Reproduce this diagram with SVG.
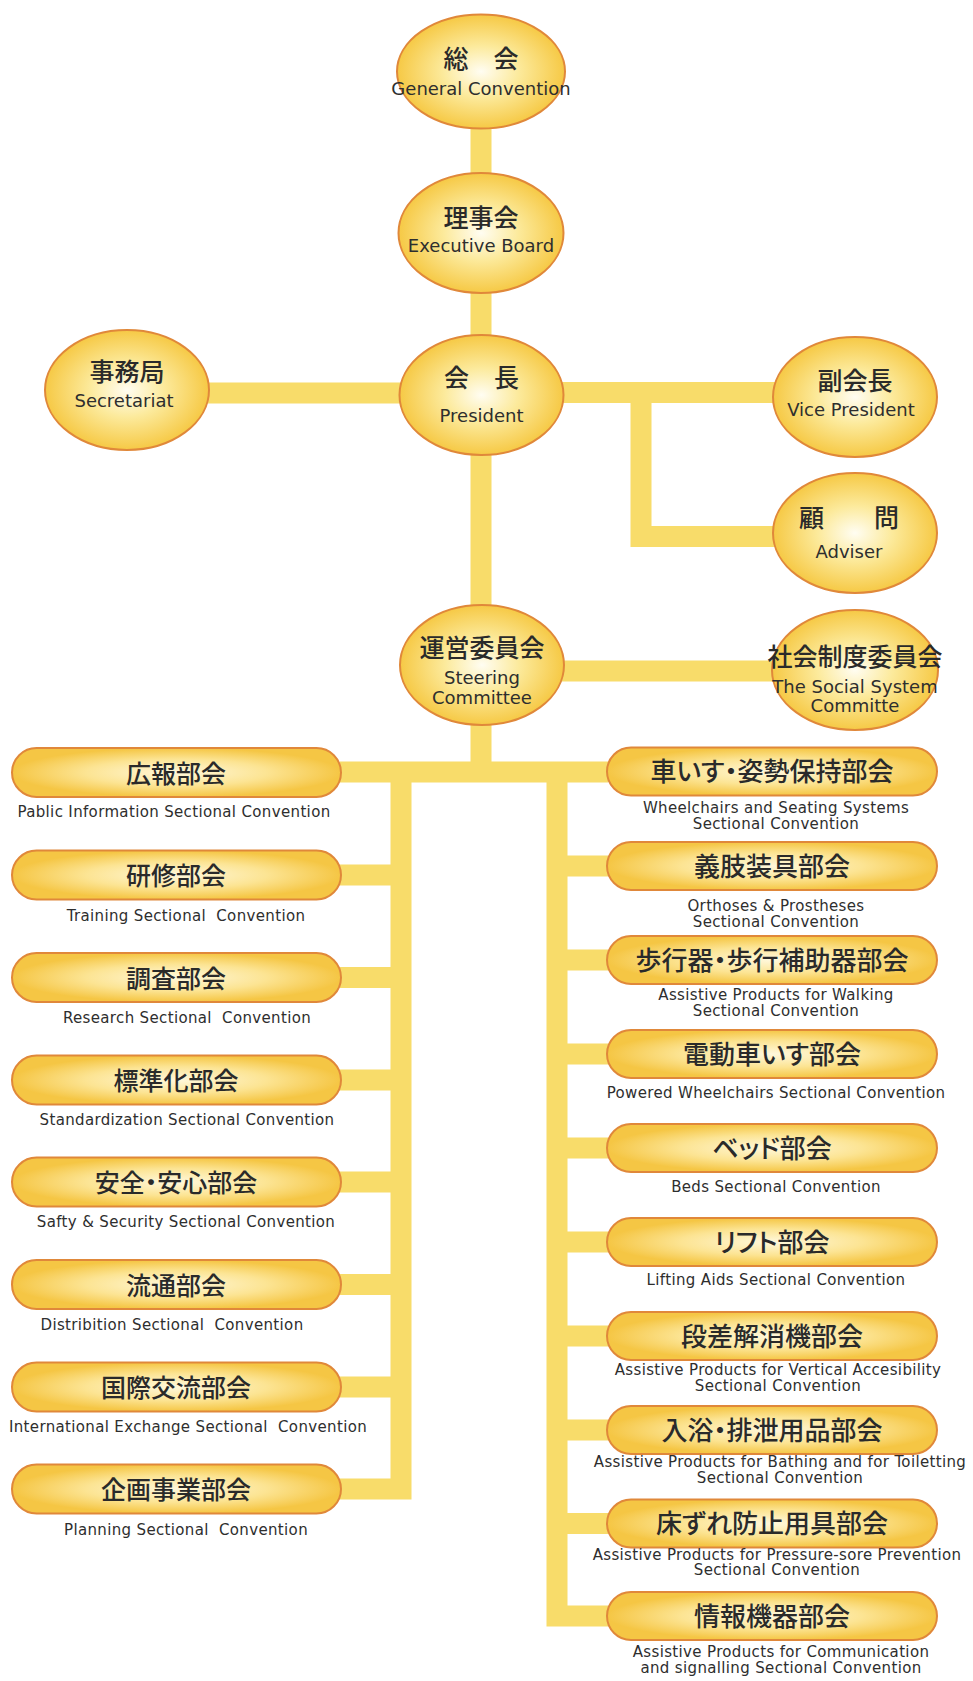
<svg xmlns="http://www.w3.org/2000/svg" width="973" height="1681" viewBox="0 0 973 1681">
<defs>
<radialGradient id="gEll" cx="0.5" cy="0.5" r="0.5">
<stop offset="0" stop-color="#fffdf2"/>
<stop offset="0.45" stop-color="#fcea9c"/>
<stop offset="1" stop-color="#f6c945"/>
</radialGradient>
<radialGradient id="gPill" cx="0.5" cy="0.5" r="0.5">
<stop offset="0" stop-color="#fff8dc"/>
<stop offset="0.55" stop-color="#fce493"/>
<stop offset="1" stop-color="#f5c644"/>
</radialGradient>
<style>
.ell{fill:url(#gEll);stroke:#e0883a;stroke-width:2}
.pill{fill:url(#gPill);stroke:#e0883a;stroke-width:2}
.con{fill:none;stroke:#f8dc6a;stroke-width:21;stroke-linejoin:miter;stroke-linecap:butt}
.jp{font-family:"Noto Sans CJK JP","Noto Sans CJK SC",sans-serif;font-weight:500;font-size:25px;fill:#2a2a2a;text-anchor:middle;font-feature-settings:"palt"}
.jpr{font-size:26px}
.en{font-family:"DejaVu Sans","Liberation Sans",sans-serif;font-size:18px;fill:#2e2e2e;text-anchor:middle}
.sub{font-family:"DejaVu Sans","Liberation Sans",sans-serif;font-size:15px;letter-spacing:0.35px;fill:#2e2e2e;text-anchor:middle;white-space:pre}
</style>
</defs>
<rect width="973" height="1681" fill="#ffffff"/>
<g id="connectors">
<path class="con" d="M481,126 V176"/>
<path class="con" d="M481,291 V337"/>
<path class="con" d="M207,393 H402"/>
<path class="con" d="M561,392.5 H775"/>
<path class="con" d="M641,392.5 V536.5 H775"/>
<path class="con" d="M481,453 V607"/>
<path class="con" d="M562,671 H773"/>
<path class="con" d="M481,723 V772"/>
<path class="con" d="M340,772 H608"/>
<path class="con" d="M401,772 V1489 H340"/>
<path class="con" d="M340,875 H401 M340,977.5 H401 M340,1080 H401 M340,1182 H401 M340,1284.5 H401 M340,1387 H401"/>
<path class="con" d="M557,772 V1616 H608"/>
<path class="con" d="M557,866 H608 M557,960 H608 M557,1054 H608 M557,1148 H608 M557,1242 H608 M557,1336 H608 M557,1430 H608 M557,1523.5 H608"/>
</g>
<g id="n-general">
<ellipse class="ell" cx="481" cy="71.5" rx="84" ry="57"/>
<text class="jp" x="481" y="68">総　会</text>
<text class="en" x="481" y="95">General Convention</text>
</g>
<g id="n-board">
<ellipse class="ell" cx="481" cy="233" rx="82.5" ry="60"/>
<text class="jp" x="481" y="227">理事会</text>
<text class="en" x="481" y="252">Executive Board</text>
</g>
<g id="n-president">
<ellipse class="ell" cx="481.5" cy="395" rx="82" ry="60"/>
<text class="jp" x="481.5" y="386.5">会　長</text>
<text class="en" x="481.5" y="422">President</text>
</g>
<g id="n-secretariat">
<ellipse class="ell" cx="127" cy="390" rx="82" ry="60"/>
<text class="jp" x="127" y="381">事務局</text>
<text class="en" x="124" y="407">Secretariat</text>
</g>
<g id="n-vice">
<ellipse class="ell" cx="855" cy="397" rx="82" ry="60"/>
<text class="jp" x="855" y="389.5">副会長</text>
<text class="en" x="851" y="416">Vice President</text>
</g>
<g id="n-adviser">
<ellipse class="ell" cx="855" cy="533" rx="82" ry="60"/>
<text class="jp" x="849" y="526.5">顧　　問</text>
<text class="en" x="849" y="558">Adviser</text>
</g>
<g id="n-steering">
<ellipse class="ell" cx="482" cy="665" rx="82" ry="60"/>
<text class="jp" x="482" y="657">運営委員会</text>
<text class="en" x="482" y="684">Steering</text>
<text class="en" x="482" y="704">Committee</text>
</g>
<g id="n-social">
<ellipse class="ell" cx="855" cy="670" rx="83" ry="60"/>
<text class="jp" x="855" y="666">社会制度委員会</text>
<text class="en" x="855" y="693">The Social System</text>
<text class="en" x="855" y="712">Committe</text>
</g>
<g id="n-l1">
<rect class="pill" x="12" y="748" width="329" height="49" rx="24.5"/>
<text class="jp" x="176" y="782.5">広報部会</text>
<text class="sub" x="174" y="817">Pablic Information Sectional Convention</text>
</g>
<g id="n-l2">
<rect class="pill" x="12" y="850.5" width="329" height="49" rx="24.5"/>
<text class="jp" x="176" y="885">研修部会</text>
<text class="sub" x="186" y="921">Training Sectional  Convention</text>
</g>
<g id="n-l3">
<rect class="pill" x="12" y="953" width="329" height="49" rx="24.5"/>
<text class="jp" x="176" y="987.5">調査部会</text>
<text class="sub" x="187" y="1023">Research Sectional  Convention</text>
</g>
<g id="n-l4">
<rect class="pill" x="12" y="1055.5" width="329" height="49" rx="24.5"/>
<text class="jp" x="176" y="1090">標準化部会</text>
<text class="sub" x="187" y="1125">Standardization Sectional Convention</text>
</g>
<g id="n-l5">
<rect class="pill" x="12" y="1157.5" width="329" height="49" rx="24.5"/>
<text class="jp" x="176" y="1192">安全・安心部会</text>
<text class="sub" x="186" y="1227">Safty &amp; Security Sectional Convention</text>
</g>
<g id="n-l6">
<rect class="pill" x="12" y="1260" width="329" height="49" rx="24.5"/>
<text class="jp" x="176" y="1294.5">流通部会</text>
<text class="sub" x="172" y="1330">Distribition Sectional  Convention</text>
</g>
<g id="n-l7">
<rect class="pill" x="12" y="1362.5" width="329" height="49" rx="24.5"/>
<text class="jp" x="176" y="1397">国際交流部会</text>
<text class="sub" x="188" y="1432">International Exchange Sectional  Convention</text>
</g>
<g id="n-l8">
<rect class="pill" x="12" y="1464.5" width="329" height="49" rx="24.5"/>
<text class="jp" x="176" y="1499">企画事業部会</text>
<text class="sub" x="186" y="1535">Planning Sectional  Convention</text>
</g>
<g id="n-r1">
<rect class="pill" x="607" y="747.5" width="330" height="48" rx="24"/>
<text class="jp jpr" x="772" y="781">車いす・姿勢保持部会</text>
<text class="sub" x="776" y="813">Wheelchairs and Seating Systems</text>
<text class="sub" x="776" y="829">Sectional Convention</text>
</g>
<g id="n-r2">
<rect class="pill" x="607" y="842" width="330" height="48" rx="24"/>
<text class="jp jpr" x="772" y="875.5">義肢装具部会</text>
<text class="sub" x="776" y="911">Orthoses &amp; Prostheses</text>
<text class="sub" x="776" y="927">Sectional Convention</text>
</g>
<g id="n-r3">
<rect class="pill" x="607" y="936" width="330" height="48" rx="24"/>
<text class="jp jpr" x="772" y="969.5">歩行器・歩行補助器部会</text>
<text class="sub" x="776" y="1000">Assistive Products for Walking</text>
<text class="sub" x="776" y="1016">Sectional Convention</text>
</g>
<g id="n-r4">
<rect class="pill" x="607" y="1030" width="330" height="48" rx="24"/>
<text class="jp jpr" x="772" y="1063.5">電動車いす部会</text>
<text class="sub" x="776" y="1098">Powered Wheelchairs Sectional Convention</text>
</g>
<g id="n-r5">
<rect class="pill" x="607" y="1124" width="330" height="48" rx="24"/>
<text class="jp jpr" x="772" y="1157.5">ベッド部会</text>
<text class="sub" x="776" y="1192">Beds Sectional Convention</text>
</g>
<g id="n-r6">
<rect class="pill" x="607" y="1218" width="330" height="48" rx="24"/>
<text class="jp jpr" x="772" y="1251.5">リフト部会</text>
<text class="sub" x="776" y="1285">Lifting Aids Sectional Convention</text>
</g>
<g id="n-r7">
<rect class="pill" x="607" y="1312" width="330" height="48" rx="24"/>
<text class="jp jpr" x="772" y="1345.5">段差解消機部会</text>
<text class="sub" x="778" y="1375">Assistive Products for Vertical Accesibility</text>
<text class="sub" x="778" y="1391">Sectional Convention</text>
</g>
<g id="n-r8">
<rect class="pill" x="607" y="1406" width="330" height="48" rx="24"/>
<text class="jp jpr" x="772" y="1439.5">入浴・排泄用品部会</text>
<text class="sub" x="780" y="1467">Assistive Products for Bathing and for Toiletting</text>
<text class="sub" x="780" y="1483">Sectional Convention</text>
</g>
<g id="n-r9">
<rect class="pill" x="607" y="1499.5" width="330" height="48" rx="24"/>
<text class="jp jpr" x="772" y="1533">床ずれ防止用具部会</text>
<text class="sub" x="777" y="1560">Assistive Products for Pressure-sore Prevention</text>
<text class="sub" x="777" y="1575">Sectional Convention</text>
</g>
<g id="n-r10">
<rect class="pill" x="607" y="1592" width="330" height="48" rx="24"/>
<text class="jp jpr" x="772" y="1625.5">情報機器部会</text>
<text class="sub" x="781" y="1657">Assistive Products for Communication</text>
<text class="sub" x="781" y="1673">and signalling Sectional Convention</text>
</g>
</svg>
